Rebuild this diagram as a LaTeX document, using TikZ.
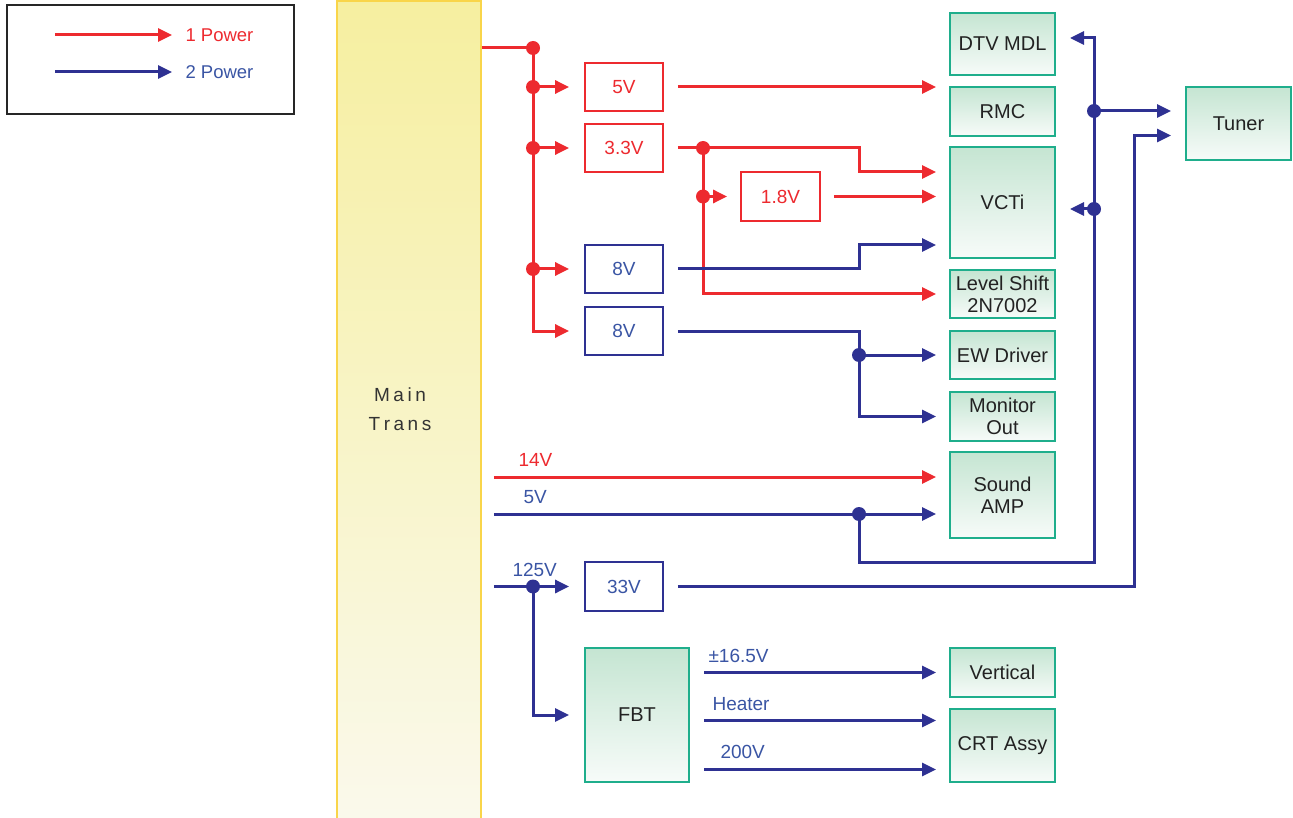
\documentclass[tikz,border=0pt]{standalone}
\usepackage{fontspec}
\setmainfont{Liberation Sans}
\usetikzlibrary{arrows.meta}
\definecolor{pred}{HTML}{ED2A2F}
\definecolor{pblue}{HTML}{2E3192}
\definecolor{tblue}{HTML}{3A55A4}
\definecolor{gborder}{HTML}{1FAE8C}
\definecolor{gtop}{HTML}{C5E5D2}
\definecolor{gbot}{HTML}{F7FBF9}
\definecolor{ytop}{HTML}{F6EFA0}
\definecolor{ybot}{HTML}{FAF9EC}
\definecolor{yborder}{HTML}{F9D54A}
\definecolor{tgray}{HTML}{222222}
\tikzset{
 wire/.style={line width=3pt},
 rw/.style={wire,draw=pred},
 bw/.style={wire,draw=pblue},
 tip/.style={-{Triangle[length=14pt,width=13pt]}},
 dotnode/.style={circle,inner sep=0pt,minimum size=14pt},
 rdot/.style={dotnode,fill=pred},
 bdot/.style={dotnode,fill=pblue},
 txt/.style={font=\fontsize{19}{20}\selectfont},
 gbox/.style={font=\fontsize{20}{21}\selectfont,draw=gborder,line width=2pt,top color=gtop,bottom color=gbot,inner sep=0pt,align=center,text=tgray},
 rbox/.style={txt,draw=pred,line width=1.8pt,fill=white,inner sep=0pt,text=pred},
 bbox/.style={txt,draw=pblue,line width=1.8pt,fill=white,inner sep=0pt,text=tblue},
 lbl/.style={txt,anchor=base west},
}
\begin{document}
\begin{tikzpicture}[x=1pt,y=-1pt]
\useasboundingbox (0,0) rectangle (1293,818);
% legend
\draw[line width=1.3pt,draw=black!85] (7,5) rectangle (294,114);
\coordinate (la1) at (55,35); \coordinate (la2) at (172,35);
\coordinate (lb1) at (55,72); \coordinate (lb2) at (172,72);
\draw[rw,tip] (la1) -- (la2);
\draw[bw,tip] (lb1) -- (lb2);
\node[txt,font=\fontsize{18.5}{20}\selectfont,text=pred,anchor=west] (lt1) at (182,35) {1 Power};
\node[txt,font=\fontsize{18.5}{20}\selectfont,text=tblue,anchor=west] (lt2) at (182,72) {2 Power};
% main trans
\node[draw=yborder,line width=1.8pt,top color=ytop,bottom color=ybot,minimum width=144pt,minimum height=824pt,inner sep=0pt] (trans) at (409,413) {};
\node[txt,text=black!80] (tm) at (400,395) {M\hspace{3.5pt}a\hspace{3.5pt}i\hspace{3.5pt}n};
\node[txt,text=black!80] (tt) at (400,424) {T\hspace{3.5pt}r\hspace{3.5pt}a\hspace{3.5pt}n\hspace{3.5pt}s};
% regulator boxes
\node[rbox,minimum width=78pt,minimum height=48pt] (b5) at (624,87) {5V};
\node[rbox,minimum width=78pt,minimum height=48pt] (b33) at (624,148) {3.3V};
\node[rbox,minimum width=79pt,minimum height=49pt] (b18) at (780.5,196.5) {1.8V};
\node[bbox,minimum width=78pt,minimum height=48pt] (b8a) at (624,269) {8V};
\node[bbox,minimum width=78pt,minimum height=48pt] (b8b) at (624,331) {8V};
\node[bbox,minimum width=78pt,minimum height=49pt] (b33v) at (624,586.5) {33V};
% green boxes
\node[gbox,minimum width=105pt,minimum height=62pt] (dtv) at (1002.5,44) {DTV MDL};
\node[gbox,minimum width=105pt,minimum height=49pt] (rmc) at (1002.5,111.5) {RMC};
\node[gbox,minimum width=105pt,minimum height=111pt] (vcti) at (1002.5,202.5) {VCTi};
\node[gbox,minimum width=105pt,minimum height=48pt] (ls) at (1002.5,294) {Level Shift\\[1pt]2N7002};
\node[gbox,minimum width=105pt,minimum height=48pt] (ew) at (1002.5,355) {EW Driver};
\node[gbox,minimum width=105pt,minimum height=49pt] (mon) at (1002.5,416.5) {Monitor\\[1pt]Out};
\node[gbox,minimum width=105pt,minimum height=86pt] (sound) at (1002.5,495) {Sound\\[1pt]AMP};
\node[gbox,minimum width=105pt,minimum height=49pt] (vert) at (1002.5,672.5) {Vertical};
\node[gbox,minimum width=105pt,minimum height=73pt] (crt) at (1002.5,745.5) {CRT Assy};
\node[gbox,minimum width=105pt,minimum height=73pt] (tuner) at (1238.5,123.5) {Tuner};
\node[gbox,minimum width=104pt,minimum height=134pt] (fbt) at (637,715) {FBT};
% junction dots
\node[rdot] (j0) at (533,48) {};
\node[rdot] (j1) at (533,87) {};
\node[rdot] (j2) at (533,148) {};
\node[rdot] (j3) at (533,269) {};
\node[rdot] (j4) at (703,148) {};
\node[rdot] (j5) at (703,196.5) {};
\node[bdot] (j6) at (859,355) {};
\node[bdot] (j7) at (859,514) {};
\node[bdot] (j8) at (1094,111) {};
\node[bdot] (j9) at (1094,209) {};
\node[bdot] (j10) at (533,586.5) {};
% red bus
\draw[rw] (trans.east |- j0) -- (j0.center);
\draw[rw,tip,shorten >=15pt] (j0.center) |- (b8b.west);
\draw[rw,tip,shorten >=15pt] (j1.center) -- (b5.west);
\draw[rw,tip,shorten >=15pt] (j2.center) -- (b33.west);
\draw[rw,tip,shorten >=15pt] (j3.center) -- (b8a.west);
% 5V out
\draw[rw,tip,shorten <=14pt,shorten >=13pt] (b5.east) -- (b5.east -| rmc.west);
% 3.3V out
\draw[rw,tip,shorten <=14pt,shorten >=13pt] (b33.east) -| (859,172) -- (vcti.west |- 0,172);
\draw[rw,tip,shorten >=13pt] (j4.center) -- (j5.center) |- (ls.west);
\draw[rw,tip,shorten >=13pt] (j5.center) -- (b18.west);
\draw[rw,tip,shorten <=13pt,shorten >=13pt] (b18.east) -- (vcti.west |- b18.east);
% 8V outs
\draw[bw,tip,shorten <=14pt,shorten >=13pt] (b8a.east) -| (859,245) -- (vcti.west |- 0,245);
\draw[bw,shorten <=14pt] (b8b.east) -| (j6.center);
\draw[bw,tip,shorten >=13pt] (j6.center) -- (ew.west);
\draw[bw,tip,shorten >=13pt] (j6.center) |- (mon.west);
% 14V and 5V
\draw[rw,tip,shorten <=12pt,shorten >=13pt] (trans.east |- 0,477) -- (sound.west |- 0,477);
\draw[bw,tip,shorten <=12pt,shorten >=13pt] (trans.east |- j7) -- (sound.west |- j7);
\draw[bw] (j7.center) |- (1094,562) -- (j9.center) -- (j8.center);
\draw[bw,tip,shorten >=14pt] (j8.center) |- (dtv.east |- 0,38);
\draw[bw,tip,shorten >=14pt] (j9.center) -- (vcti.east |- j9);
\draw[bw,tip,shorten >=14pt] (j8.center) -- (tuner.west |- j8);
% 125V
\draw[bw,tip,shorten <=12pt,shorten >=15pt] (trans.east |- j10) -- (b33v.west);
\draw[bw,tip,shorten >=15pt] (j10.center) |- (fbt.west);
\draw[bw,tip,shorten <=14pt,shorten >=14pt] (b33v.east) -| (1134,135.5) -- (tuner.west |- 0,135.5);
% FBT outs
\draw[bw,tip,shorten <=14pt,shorten >=13pt] (fbt.east |- vert) -- (vert.west);
\draw[bw,tip,shorten <=14pt,shorten >=13pt] (fbt.east |- 0,720.5) -- (crt.west |- 0,720.5);
\draw[bw,tip,shorten <=14pt,shorten >=13pt] (fbt.east |- 0,769.5) -- (crt.west |- 0,769.5);
% labels
\node[lbl,text=pred] (l14) at (515,466) {14V};
\node[lbl,text=tblue] (l5) at (520,503) {5V};
\node[lbl,text=tblue] (l125) at (509,576) {125V};
\node[lbl,text=tblue] (l165) at (705,662) {±16.5V};
\node[lbl,text=tblue] (lh) at (709,710) {Heater};
\node[lbl,text=tblue] (l200) at (717,758) {200V};
\end{tikzpicture}
\end{document}
